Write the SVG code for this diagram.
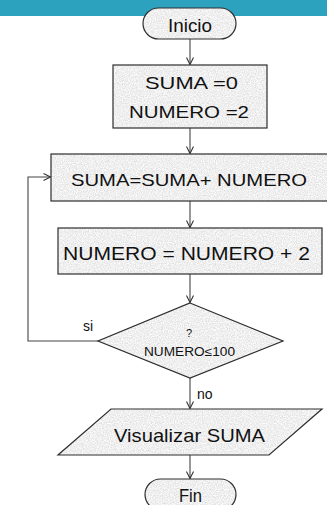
<svg xmlns="http://www.w3.org/2000/svg" width="327" height="505" viewBox="0 0 327 505">
<style>
.fillshape{fill:#000;stroke:none}
.outline{fill:none;stroke:#2e2e2e;stroke-width:1.2}
.conn{fill:none;stroke:#444;stroke-width:1.1}
text{font-family:"Liberation Sans",Arial,sans-serif;fill:#111;text-anchor:middle}
.lbl{text-anchor:start}
</style>
<defs>
<filter id="tex" x="0%" y="0%" width="100%" height="100%" color-interpolation-filters="sRGB">
<feTurbulence type="fractalNoise" baseFrequency="0.85" numOctaves="3" seed="4" result="n"/>
<feColorMatrix in="n" type="saturate" values="0" result="g"/>
<feComponentTransfer in="g" result="c">
<feFuncR type="linear" slope="0.3" intercept="0.79"/>
<feFuncG type="linear" slope="0.3" intercept="0.79"/>
<feFuncB type="linear" slope="0.3" intercept="0.79"/>
<feFuncA type="table" tableValues="1 1"/>
</feComponentTransfer>
<feComposite in="c" in2="SourceGraphic" operator="in"/>
</filter>
<marker id="arr" markerUnits="userSpaceOnUse" markerWidth="12" markerHeight="12" viewBox="-10 -6 12 12" refX="0" refY="0" orient="auto">
<path d="M-7,-3.5 L0,0 L-7,3.5" fill="none" stroke="#333" stroke-width="1.1"/>
</marker>
</defs>
<rect x="0" y="0" width="327" height="16" fill="#2ca2bf"/>

<g id="connectors">
<line class="conn" x1="190" y1="39" x2="190" y2="64.5" marker-end="url(#arr)"/>
<line class="conn" x1="190" y1="128" x2="190" y2="153.5" marker-end="url(#arr)"/>
<line class="conn" x1="190" y1="201" x2="190" y2="227.5" marker-end="url(#arr)"/>
<line class="conn" x1="190" y1="274" x2="190" y2="302.5" marker-end="url(#arr)"/>
<line class="conn" x1="190" y1="378" x2="190" y2="408.5" marker-end="url(#arr)"/>
<line class="conn" x1="190" y1="455" x2="190" y2="478.5" marker-end="url(#arr)"/>
<polyline class="conn" points="98,341 28,341 28,177 50.5,177" marker-end="url(#arr)"/>
<text class="lbl" x="83" y="331" font-size="14">si</text>
<text class="lbl" x="197" y="399" font-size="14">no</text>
</g>

<g id="inicio">
<rect class="fillshape" filter="url(#tex)" x="143" y="8" width="93" height="31" rx="15.5"/>
<rect class="outline" x="143" y="8" width="93" height="31" rx="15.5"/>
<text x="190" y="32" font-size="19" textLength="44" lengthAdjust="spacingAndGlyphs">Inicio</text>
</g>

<g id="init">
<rect class="fillshape" filter="url(#tex)" x="113" y="65" width="154" height="63"/>
<rect class="outline" x="113" y="65" width="154" height="63"/>
<text x="191.5" y="89" font-size="16.5" textLength="93" lengthAdjust="spacingAndGlyphs">SUMA =0</text>
<text x="189" y="118" font-size="16.5" textLength="120" lengthAdjust="spacingAndGlyphs">NUMERO =2</text>
</g>

<g id="suma">
<rect class="fillshape" filter="url(#tex)" x="51" y="154" width="280" height="47"/>
<rect class="outline" x="51" y="154" width="280" height="47"/>
<text x="189" y="186" font-size="17" textLength="236" lengthAdjust="spacingAndGlyphs">SUMA=SUMA+ NUMERO</text>
</g>

<g id="numero">
<rect class="fillshape" filter="url(#tex)" x="58" y="228" width="264" height="46"/>
<rect class="outline" x="58" y="228" width="264" height="46"/>
<text x="186.5" y="260" font-size="18" textLength="247" lengthAdjust="spacingAndGlyphs">NUMERO = NUMERO + 2</text>
</g>

<g id="decision">
<polygon class="fillshape" filter="url(#tex)" points="190,303 283,341 190,378 98,341"/>
<polygon class="outline" points="190,303 283,341 190,378 98,341"/>
<text x="189" y="337" font-size="11">?</text>
<text x="189.5" y="356" font-size="12.5" textLength="91" lengthAdjust="spacingAndGlyphs">NUMERO≤100</text>
</g>

<g id="visualizar">
<polygon class="fillshape" filter="url(#tex)" points="111,409 322,409 269,455 58,455"/>
<polygon class="outline" points="111,409 322,409 269,455 58,455"/>
<text x="189.5" y="442" font-size="19" textLength="151" lengthAdjust="spacingAndGlyphs">Visualizar SUMA</text>
</g>

<g id="fin">
<rect class="fillshape" filter="url(#tex)" x="145" y="479" width="91" height="31" rx="15.5"/>
<rect class="outline" x="145" y="479" width="91" height="31" rx="15.5"/>
<text x="190.5" y="502" font-size="19" textLength="23" lengthAdjust="spacingAndGlyphs">Fin</text>
</g>
</svg>
